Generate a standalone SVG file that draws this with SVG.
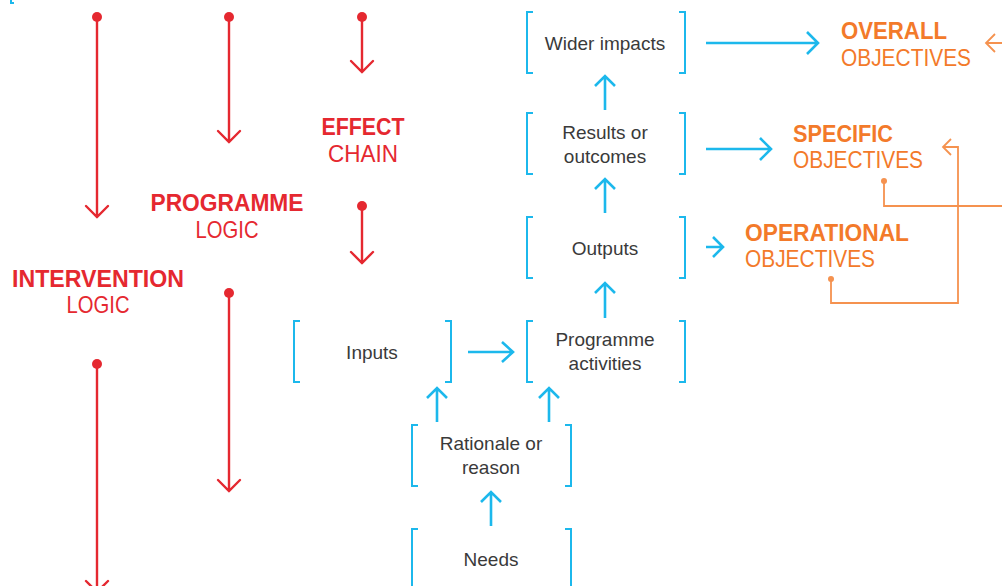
<svg xmlns="http://www.w3.org/2000/svg" width="1002" height="586" viewBox="0 0 1002 586">
<defs>
<style>
.red{stroke:#e52830;stroke-width:2.4;fill:none;stroke-linecap:round}
.reddot{fill:#e52830}
.blue{stroke:#1cb8ec;stroke-width:2.6;fill:none}
.br{stroke:#1cb8ec;stroke-width:2;fill:none}
.or{stroke:#f5924f;stroke-width:1.8;fill:none}
.ordot{fill:#f5924f}
.box{font-family:"Liberation Sans",Arial,sans-serif;font-size:19px;fill:#3a3a3a;text-anchor:middle}
.lblb{font-family:"Liberation Sans",Arial,sans-serif;font-size:24px;font-weight:bold}
.lbl{font-family:"Liberation Sans",Arial,sans-serif;font-size:24px}
.rt{fill:#e52830;text-anchor:middle}
.ot{fill:#f37a2a}
</style>
</defs>
<rect width="1002" height="586" fill="#ffffff"/>
<path d="M11,0 V3 H14" class="br"/>

<g id="connectors">
<!-- red arrows -->
<g>
<circle cx="97" cy="17" r="5" class="reddot"/><path d="M97,17 V217 M86,206 L97,217 L108,206" class="red"/>
<circle cx="229" cy="17" r="5" class="reddot"/><path d="M229,17 V142 M218,131 L229,142 L240,131" class="red"/>
<circle cx="362" cy="17" r="5" class="reddot"/><path d="M362,17 V72 M351,61 L362,72 L373,61" class="red"/>
<circle cx="362" cy="206" r="5" class="reddot"/><path d="M362,206 V263 M351,252 L362,263 L373,252" class="red"/>
<circle cx="229" cy="293" r="5" class="reddot"/><path d="M229,293 V491 M218,480 L229,491 L240,480" class="red"/>
<circle cx="97" cy="364" r="5" class="reddot"/><path d="M97,364 V592 M86,581 L97,592 L108,581" class="red"/>
</g>
<!-- blue arrows -->
<g>
<path d="M605,110 V76 M595,86 L605,76 L615,86" class="blue"/>
<path d="M605,213 V179 M595,189 L605,179 L615,189" class="blue"/>
<path d="M605,318 V283 M595,293 L605,283 L615,293" class="blue"/>
<path d="M437,422 V388 M427,398 L437,388 L447,398" class="blue"/>
<path d="M549,422 V388 M539,398 L549,388 L559,398" class="blue"/>
<path d="M491,526 V492 M481,502 L491,492 L501,502" class="blue"/>
<path d="M468,352 H513 M502,342 L513,352 L502,362" class="blue"/>
<path d="M706,43 H818 M807,32 L818,43 L807,54" class="blue"/>
<path d="M706,149 H771 M760,138 L771,149 L760,160" class="blue"/>
<path d="M706,247 H723 M713,237 L723,247 L713,257" class="blue"/>
</g>
<!-- orange connectors -->
<g>
<circle cx="884" cy="181" r="3" class="ordot"/><path d="M884,181 V206 H1004" class="or"/>
<circle cx="831" cy="279" r="3" class="ordot"/><path d="M831,279 V303 H958 V147 H943 M951,139 L943,147 L951,155" class="or"/>
<path d="M1004,43 H986 M995,34 L986,43 L995,52" class="or"/>
</g>
</g>

<g id="label-intervention">
<text x="98" y="287" class="lblb rt" textLength="172" lengthAdjust="spacingAndGlyphs">INTERVENTION</text>
<text x="98" y="313" class="lbl rt" textLength="63" lengthAdjust="spacingAndGlyphs">LOGIC</text>
</g>
<g id="label-programme">
<text x="227" y="211" class="lblb rt" textLength="153" lengthAdjust="spacingAndGlyphs">PROGRAMME</text>
<text x="227" y="238" class="lbl rt" textLength="63" lengthAdjust="spacingAndGlyphs">LOGIC</text>
</g>
<g id="label-effect">
<text x="363" y="135" class="lblb rt" textLength="83" lengthAdjust="spacingAndGlyphs">EFFECT</text>
<text x="363" y="162" class="lbl rt" textLength="70" lengthAdjust="spacingAndGlyphs">CHAIN</text>
</g>

<g id="node-wider">
<path d="M533,12 H527 V73 H533 M679,12 H685 V73 H679" class="br"/>
<text x="605" y="50" class="box">Wider impacts</text>
</g>
<g id="node-results">
<path d="M533,113 H527 V174 H533 M679,113 H685 V174 H679" class="br"/>
<text x="605" y="139" class="box">Results or</text>
<text x="605" y="163" class="box">outcomes</text>
</g>
<g id="node-outputs">
<path d="M533,217 H527 V278 H533 M679,217 H685 V278 H679" class="br"/>
<text x="605" y="255" class="box">Outputs</text>
</g>
<g id="node-activities">
<path d="M533,321 H527 V382 H533 M679,321 H685 V382 H679" class="br"/>
<text x="605" y="346" class="box">Programme</text>
<text x="605" y="370" class="box">activities</text>
</g>
<g id="node-inputs">
<path d="M300,321 H294 V382 H300 M445,321 H451 V382 H445" class="br"/>
<text x="372" y="359" class="box">Inputs</text>
</g>
<g id="node-rationale">
<path d="M418,425 H412 V486 H418 M565,425 H571 V486 H565" class="br"/>
<text x="491" y="450" class="box">Rationale or</text>
<text x="491" y="474" class="box">reason</text>
</g>
<g id="node-needs">
<path d="M418,529 H412 V590 M565,529 H571 V590" class="br"/>
<text x="491" y="566" class="box">Needs</text>
</g>

<g id="label-overall">
<text x="841" y="39" class="lblb ot" textLength="106" lengthAdjust="spacingAndGlyphs">OVERALL</text>
<text x="841" y="66" class="lbl ot" textLength="130" lengthAdjust="spacingAndGlyphs">OBJECTIVES</text>
</g>
<g id="label-specific">
<text x="793" y="142" class="lblb ot" textLength="100" lengthAdjust="spacingAndGlyphs">SPECIFIC</text>
<text x="793" y="168" class="lbl ot" textLength="130" lengthAdjust="spacingAndGlyphs">OBJECTIVES</text>
</g>
<g id="label-operational">
<text x="745" y="241" class="lblb ot" textLength="164" lengthAdjust="spacingAndGlyphs">OPERATIONAL</text>
<text x="745" y="267" class="lbl ot" textLength="130" lengthAdjust="spacingAndGlyphs">OBJECTIVES</text>
</g>
</svg>
